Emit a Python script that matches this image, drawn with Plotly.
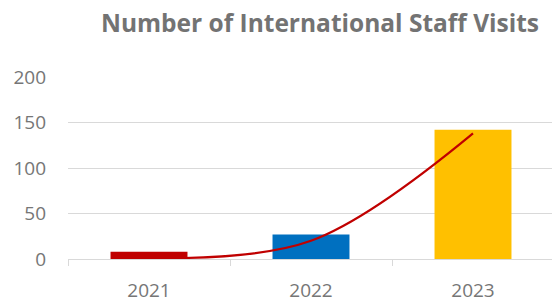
import plotly.graph_objects as go

years = ["2021", "2022", "2023"]
visits = [8, 27, 142]
bar_colors = ["#C00000", "#0070C0", "#FFC000"]
trend = [1, 20, 138]
y_ticks = [0, 50, 100, 150, 200]

fig = go.Figure()
fig.add_trace(go.Bar(
    x=years, y=visits, marker=dict(color=bar_colors, line=dict(width=0)),
    width=0.475, showlegend=False, hoverinfo="skip"))
fig.add_trace(go.Scatter(
    x=years, y=trend, mode="lines", line=dict(color="#C00000", width=2.2, shape="spline", smoothing=1),
    showlegend=False, hoverinfo="skip"))

W, H = 552, 302
left, top, bottom = 68, 77, 259.5
fig.update_layout(
    width=W, height=H,
    margin=dict(l=left, r=0, t=top, b=H - bottom),
    paper_bgcolor="white", plot_bgcolor="white",
    title=dict(text="<b>Number of International Staff Visits</b>",
               x=320 / W, xanchor="center", xref="container",
               y=1 - 23 / H, yanchor="middle", yref="container",
               font=dict(family="Open Sans", size=24.5, color="#737373")),
    xaxis=dict(type="category", range=[-0.5, -0.5 + (W - left) / 162],
               showgrid=False, showline=True, linecolor="#D9D9D9", linewidth=1,
               ticks="outside", tickson="boundaries", ticklen=6, tickcolor="#D9D9D9",
               ticklabelstandoff=14,
               tickfont=dict(family="Open Sans", size=19, color="#767676"), zeroline=False),
    yaxis=dict(range=[0, 200], tickvals=y_ticks, showgrid=True, gridcolor="#D9D9D9", gridwidth=1,
               zeroline=False, showline=False, ticks="", ticklabelstandoff=21,
               tickfont=dict(family="Open Sans", size=19, color="#767676")),
    bargap=0.5,
)
fig.write_html("out.html", config={"displayModeBar": False},
               post_script="document.body.style.margin='0';")
